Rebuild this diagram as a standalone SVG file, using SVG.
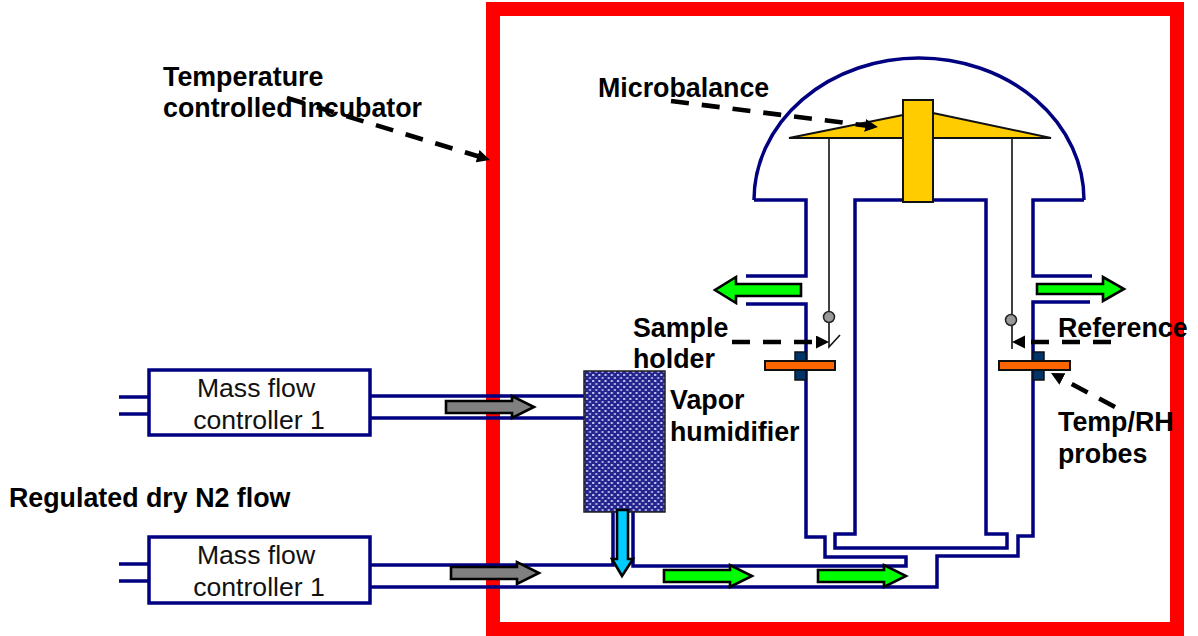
<svg xmlns="http://www.w3.org/2000/svg" width="1198" height="636" viewBox="0 0 1198 636">
<style>
.t{fill:none;stroke:#000080;stroke-width:3.5}
.w{fill:none;stroke:#111;stroke-width:1.6}
.k{fill:#FFCC00;stroke:#111;stroke-width:2}
.ar{stroke:#000;stroke-width:2.6}
.g{fill:#00FF00}.y{fill:#808080}
.d{fill:none;stroke:#000;stroke-width:4.6;stroke-dasharray:18 13}
.b{font:bold 26.8px "Liberation Sans",Arial,sans-serif;fill:#000}
.r{font:26.6px "Liberation Sans",Arial,sans-serif;fill:#111;text-anchor:middle}
.p{fill:#003366;stroke:#111;stroke-width:1.5}
.o{fill:#FF6600;stroke:#111;stroke-width:2}
.m{fill:#fff;stroke:#000080;stroke-width:3.5}
.s{fill:#999;stroke:#222;stroke-width:1.5}
</style>
<defs>
<pattern id="dots" width="6.2" height="6" patternUnits="userSpaceOnUse" x="585" y="373">
<rect width="6.2" height="6" fill="#24248f"/>
<rect x="1" y="1" width="2" height="2" fill="#c8c8f0"/>
<rect x="4.1" y="4" width="2" height="2" fill="#b0b0e6"/>
</pattern>
<marker id="h" markerUnits="userSpaceOnUse" markerWidth="16" markerHeight="14" refX="8" refY="6.5" orient="auto"><path d="M0 0L13 6.5L0 13Z" fill="#000"/></marker>
</defs>
<rect id="incubator" x="493" y="9" width="684" height="620" fill="#fff" stroke="#FF0000" stroke-width="14"/>
<g id="connectors">
<path class="t" d="M119 397H149M119 414H149M370 396H584M370 418H584M119 564H149M119 581H149"/>
<path class="t" d="M370 565H613V510M633 510V566H906V557H825V537H806V304H746M746 276H806V200H754"/>
<path class="t" d="M1084 200H1033V276H1092M1090 302H1033V536H1018V556H937V587H370"/>
<path class="t" d="M855 534V200H986V534H1007V548H835V534Z"/>
<path class="t" d="M754 200A165 142 0 0 1 1084 200"/>
<path class="w" d="M829 138V311M829 323V347L840 335M1012 138V314M1012 326V349"/>
</g>
<g id="mfc1"><rect class="m" x="149" y="370" width="221" height="65"/><text class="r" x="256" y="397">Mass flow</text><text class="r" x="259" y="429">controller 1</text></g>
<g id="mfc2"><rect class="m" x="149" y="537" width="221" height="66"/><text class="r" x="256" y="564">Mass flow</text><text class="r" x="259" y="596">controller 1</text></g>
<g id="microbalance"><path class="k" d="M789 138L903 115V138ZM1051 138L933 113V138Z"/><rect class="k" x="903" y="100" width="30" height="102"/></g>
<g id="humidifier"><rect x="584" y="371" width="81" height="141" fill="url(#dots)" stroke="#222" stroke-width="1.5"/></g>
<g id="sample-holder"><circle class="s" cx="829" cy="317" r="5.5"/><rect class="p" x="795" y="352" width="11" height="28"/><rect class="o" x="765" y="361" width="70" height="9"/></g>
<g id="reference"><circle class="s" cx="1011" cy="320" r="5.5"/><rect class="p" x="1033" y="352" width="11" height="28"/><rect class="o" x="999" y="361" width="71" height="9"/></g>
<g id="flow-arrows">
<path class="ar y" d="M446 401H512V396L534 407L512 418V413H446Z"/>
<path class="ar y" d="M451 567H517V562L539 573L517 584V579H451Z"/>
<path class="ar" fill="#00CCFF" d="M617 510H628V559H633L622 576L612 559H617Z"/>
<path class="ar g" d="M664 570H730V565L752 576L730 587V582H664Z"/>
<path class="ar g" d="M818 570H884V565L906 576L884 587V582H818Z"/>
<path class="ar g" d="M801 284H736V277L715 290L736 303V296H801Z"/>
<path class="ar g" d="M1037 284H1103V277L1124 289L1103 301V294H1037Z"/>
</g>
<g id="dashed-leaders">
<path class="d" marker-end="url(#h)" d="M287 98L485.2 158.5"/>
<path class="d" marker-end="url(#h)" d="M671 101L873 126.4"/>
<path class="d" marker-end="url(#h)" d="M732 342H824"/>
<path class="d" marker-end="url(#h)" d="M1111 342H1017"/>
<path class="d" marker-end="url(#h)" d="M1115 407L1055.4 375.3"/>
</g>
<g id="labels">
<text class="b" x="163" y="85.5">Temperature</text>
<text class="b" x="163" y="117">controlled incubator</text>
<text class="b" x="598" y="96.5">Microbalance</text>
<text class="b" x="633" y="336.5">Sample</text>
<text class="b" x="633" y="368">holder</text>
<text class="b" x="670" y="409">Vapor</text>
<text class="b" x="670" y="441">humidifier</text>
<text class="b" x="1058" y="336.5">Reference</text>
<text class="b" x="1058" y="430.5">Temp/RH</text>
<text class="b" x="1058" y="462.5">probes</text>
<text class="b" x="9" y="506.5">Regulated dry N2 flow</text>
</g>
</svg>
